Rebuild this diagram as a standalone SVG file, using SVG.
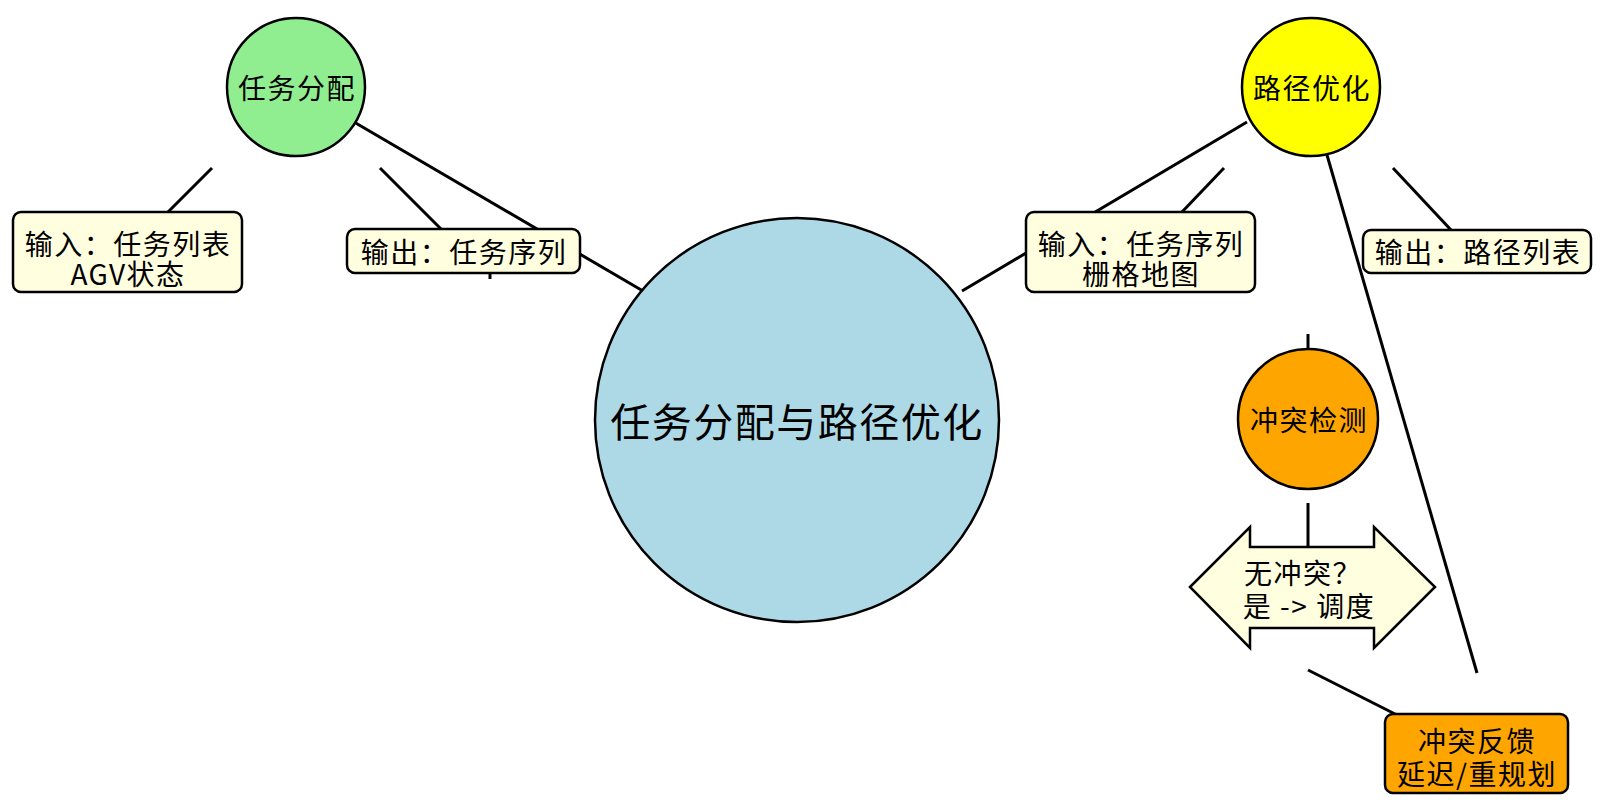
<svg xmlns="http://www.w3.org/2000/svg" width="1600" height="810" viewBox="0 0 1600 810">
<style>
.t{font-family:"Noto Sans CJK SC","Noto Sans",sans-serif;font-size:28px;letter-spacing:1.5px;fill:#000;text-anchor:middle;dominant-baseline:central}
.big{font-size:40px}
.ln{stroke:#000;stroke-width:3;fill:none;stroke-linecap:butt}
.node{stroke:#000;stroke-width:2.5}
.box{fill:#FFFFE0;stroke:#000;stroke-width:2.5}
</style>
<rect width="1600" height="810" fill="#fff"/>
<g id="connectors">
<line class="ln" x1="354" y1="122" x2="643" y2="291"/>
<line class="ln" x1="212" y1="168" x2="168" y2="212"/>
<line class="ln" x1="380" y1="168" x2="441" y2="229"/>
<line class="ln" x1="490" y1="272" x2="490" y2="279"/>
<line class="ln" x1="1247" y1="122" x2="962" y2="291"/>
<line class="ln" x1="1224" y1="168" x2="1182" y2="212"/>
<line class="ln" x1="1327" y1="155" x2="1477" y2="673"/>
<line class="ln" x1="1393" y1="168" x2="1451" y2="230"/>
<line class="ln" x1="1308" y1="334" x2="1308" y2="352"/>
<line class="ln" x1="1308" y1="503" x2="1308" y2="550"/>
<line class="ln" x1="1308" y1="670" x2="1397" y2="715"/>
</g>
<g id="central">
<circle class="node" cx="797" cy="420" r="202" fill="#ADD8E6"/>
<text class="t big" x="797" y="420">任务分配与路径优化</text>
</g>
<g id="task-assign">
<circle class="node" cx="296" cy="87" r="69" fill="#90EE90"/>
<text class="t" x="297" y="87">任务分配</text>
</g>
<g id="task-input">
<rect class="box" x="13" y="212" width="229" height="80" rx="8"/>
<text class="t" x="128" y="243">输入：任务列表</text>
<text class="t" x="128" y="273">AGV状态</text>
</g>
<g id="task-output">
<rect class="box" x="347" y="229" width="233" height="44" rx="8"/>
<text class="t" x="464" y="251">输出：任务序列</text>
</g>
<g id="path-opt">
<circle class="node" cx="1311" cy="87" r="69" fill="#FFFF00"/>
<text class="t" x="1312" y="87">路径优化</text>
</g>
<g id="path-input">
<rect class="box" x="1026" y="212" width="229" height="80" rx="8"/>
<text class="t" x="1141" y="243">输入：任务序列</text>
<text class="t" x="1141" y="273">栅格地图</text>
</g>
<g id="path-output">
<rect class="box" x="1363" y="230" width="228" height="43" rx="8"/>
<text class="t" x="1478" y="251">输出：路径列表</text>
</g>
<g id="conflict-detect">
<circle class="node" cx="1308" cy="419" r="70" fill="#FFA500"/>
<text class="t" x="1309" y="419">冲突检测</text>
</g>
<g id="decision">
<polygon class="box" points="1190,587 1250,527 1250,547 1374,547 1374,527 1435,587 1374,648 1374,628 1250,628 1250,648"/>
<text class="t" x="1303" y="572">无冲突？</text>
<text class="t" x="1309" y="605">是 -&gt; 调度</text>
</g>
<g id="feedback">
<rect class="node" x="1385" y="714" width="183" height="79" rx="8" fill="#FFA500"/>
<text class="t" x="1477" y="740">冲突反馈</text>
<text class="t" x="1477" y="773">延迟/重规划</text>
</g>
</svg>
